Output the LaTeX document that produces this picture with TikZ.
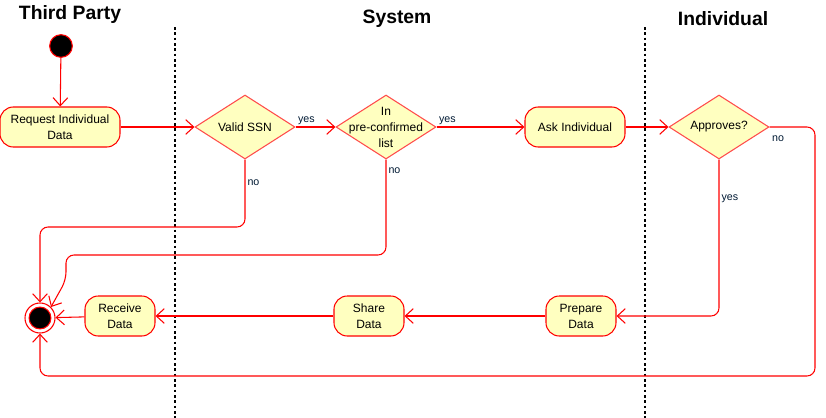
\documentclass[tikz,border=0pt]{standalone}
\usepackage{fontspec}
\setmainfont{Liberation Sans}
\usetikzlibrary{shapes.geometric,arrows.meta}
\definecolor{actRed}{RGB}{255, 0, 0}
\definecolor{actFill}{RGB}{255, 255, 192}
\definecolor{guardNavy}{RGB}{0, 25, 51}

\begin{document}
\begin{tikzpicture}[x=0.75pt, y=-0.75pt]
    \tikzstyle{action} = [rectangle, draw=actRed, fill=actFill, line width=0.8pt, rounded corners=10pt, minimum width=90pt, minimum height=30pt, align=center, font=\fontsize{9}{12}\selectfont]
    \tikzstyle{decision} = [diamond, draw=actRed!70, fill=actFill, line width=0.8pt, minimum width=75pt, minimum height=48pt, inner sep=0pt, label={[align=center, font=\fontsize{9}{12}\selectfont]center:#1}]
    \tikzstyle{flow} = [-{Straight Barb[length=6pt, width=11pt]}, line width=0.8pt, actRed, rounded corners=6pt]
    \tikzstyle{lane} = [black, line width=0.8pt, dash pattern=on 2pt off 2pt]
    \tikzstyle{swim} = [font=\bfseries\fontsize{14.5}{17}\selectfont]
    \tikzstyle{guard} = [font=\fontsize{8}{10}\selectfont, text=guardNavy, inner sep=1.5pt]
    \tikzstyle{dot} = [circle, fill=black, draw=actRed, line width=0.8pt, inner sep=0pt]

    \useasboundingbox (0,0) rectangle (826,418);

    % swimlanes
    \node[swim] (tpTitle) at (70,14) {Third Party};
    \node[swim] (sysTitle) at (397,19) {System};
    \node[swim] (indTitle) at (723,19) {Individual};
    \draw[lane] (175,27) -- (175,418);
    \draw[lane] (645,27) -- (645,418);

    % start and end
    \node[dot, minimum size=17pt] (start) at (61,46) {};
    \node[circle, draw=actRed, fill=white, line width=0.8pt, minimum size=22.5pt, inner sep=0pt,
          path picture={\filldraw[fill=black, draw=actRed, line width=0.8pt] (path picture bounding box.center) circle (8.2pt);}] (finish) at (40,318) {};

    % actions and decisions
    \node[action] (request) at (60,127) {Request Individual\\Data};
    \node[decision={Valid SSN}] (ssn) at (245,127) {};
    \node[decision={In\\pre-confirmed\\list}] (list) at (386,127) {};
    \node[action, minimum width=75pt] (ask) at (575,127) {Ask Individual};
    \node[decision={Approves?}] (approve) at (719,127) {};
    \node[action, minimum width=52.5pt] (prepare) at (581,316) {Prepare\\Data};
    \node[action, minimum width=52.5pt] (share) at (369,316) {Share\\Data};
    \node[action, minimum width=52.5pt] (receive) at (120,316) {Receive\\Data};

    % flows
    \draw[flow] (start) -- (request);
    \draw[flow] (request) -- (ssn);
    \draw[flow] (ssn) -- node[guard, above right, pos=0] {yes} (list);
    \draw[flow] (list) -- node[guard, above right, pos=0] {yes} (ask);
    \draw[flow] (ask) -- (approve);
    \draw[flow] (ssn.south) -- node[guard, right, pos=0.35] {no} (245,227) -| (finish.north);
    \draw[flow] (list.south) -- node[guard, right, pos=0.12] {no} (386,255) -- (66,255) -- (66,280) -- (finish.north east);
    \draw[flow] (approve.east) -- node[guard, below right, pos=0, yshift=-5pt] {no} (815,127) -- (815,376) -| (finish.south);
    \draw[flow] (approve.south) |- node[guard, right, pos=0.125] {yes} (prepare.east);
    \draw[flow] (prepare) -- (share);
    \draw[flow] (share) -- (receive);
    \draw[flow] (receive) -- (finish);
\end{tikzpicture}
\end{document}
